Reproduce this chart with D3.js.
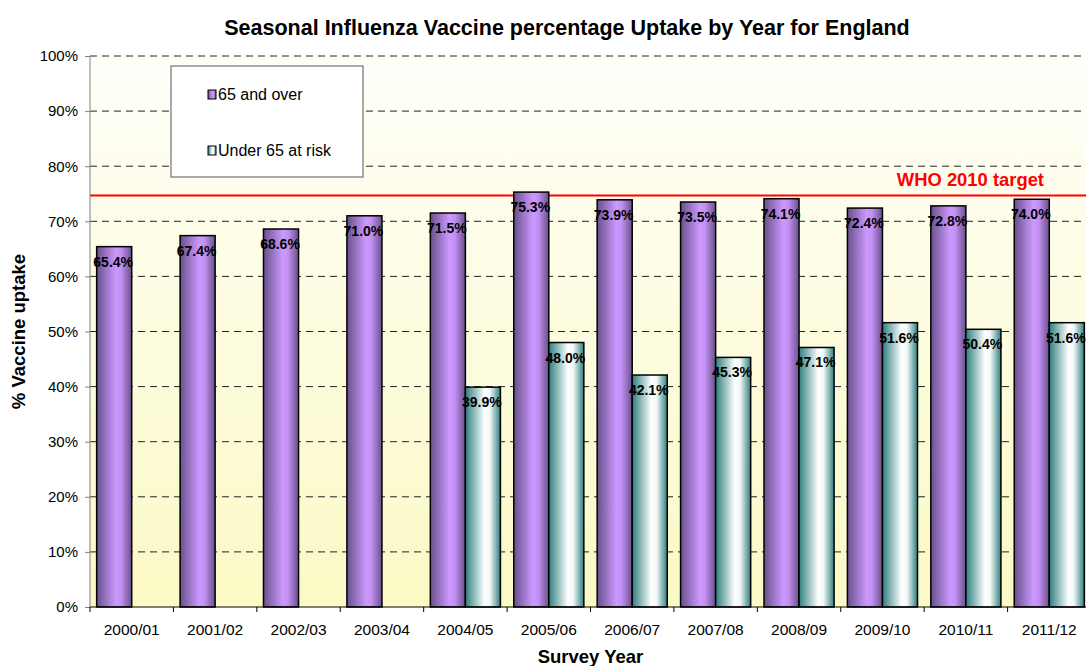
<!DOCTYPE html>
<html>
<head>
<meta charset="utf-8">
<script src="https://cdn.jsdelivr.net/npm/d3@7"></script>
<style>
  body { margin: 0; background: #fff; }
  svg { font-family: "Liberation Sans", Arial, sans-serif; display: block; }
</style>
</head>
<body>
<svg width="1086" height="666"></svg>
<script>
(function() {
	// chart data
	var years = ["2000/01","2001/02","2002/03","2003/04","2004/05","2005/06","2006/07","2007/08","2008/09","2009/10","2010/11","2011/12"];
	var over65 = [65.4, 67.4, 68.6, 71.0, 71.5, 75.3, 73.9, 73.5, 74.1, 72.4, 72.8, 74.0];
	var under65 = [null, null, null, null, 39.9, 48.0, 42.1, 45.3, 47.1, 51.6, 50.4, 51.6];
	var seriesNames = ["65 and over", "Under 65 at risk"];
	var yTicks = [0, 10, 20, 30, 40, 50, 60, 70, 80, 90, 100];
	var whoTarget = 74.7;

	var svg = d3.select("svg");
	var left = 90, right = 1091, top = 56, bottom = 607;
	var font = "'Liberation Sans', Arial, sans-serif";

	var x0 = d3.scaleBand().domain(years).range([left, right]);
	var x1 = d3.scaleBand().domain(seriesNames).range([0, x0.bandwidth()]).paddingInner(0).paddingOuter(0.19);
	var y = d3.scaleLinear().domain([0, 100]).range([bottom, top]);

	var defs = svg.append("defs");
	var bg = defs.append("linearGradient").attr("id","bg").attr("x1",0).attr("y1",0).attr("x2",0).attr("y2",1);
	bg.append("stop").attr("offset","0%").attr("stop-color","#fffffa");
	bg.append("stop").attr("offset","100%").attr("stop-color","#fbf9c4");

	var purple = defs.append("linearGradient").attr("id","purple").attr("x1",0).attr("y1",0).attr("x2",1).attr("y2",0);
	purple.append("stop").attr("offset","0%").attr("stop-color","#68508a");
	purple.append("stop").attr("offset","55%").attr("stop-color","#cc99ff");
	purple.append("stop").attr("offset","70%").attr("stop-color","#c290f2");
	purple.append("stop").attr("offset","100%").attr("stop-color","#68508a");

	var teal = defs.append("linearGradient").attr("id","teal").attr("x1",0).attr("y1",0).attr("x2",1).attr("y2",0);
	teal.append("stop").attr("offset","0%").attr("stop-color","#2e7f7f");
	teal.append("stop").attr("offset","55%").attr("stop-color","#ffffff");
	teal.append("stop").attr("offset","70%").attr("stop-color","#f2f7f7");
	teal.append("stop").attr("offset","100%").attr("stop-color","#2e7f7f");

	var fills = {"65 and over": "url(#purple)", "Under 65 at risk": "url(#teal)"};

	// plot area
	svg.append("rect").attr("x",left).attr("y",top).attr("width",right-left).attr("height",bottom-top).style("fill","url(#bg)");

	// gridlines
	svg.append("g").selectAll("line").data(yTicks.filter(function(d){ return d > 0; })).enter()
	  .append("line")
	  .attr("x1",left).attr("x2",right)
	  .attr("y1",function(d){ return y(d); }).attr("y2",function(d){ return y(d); })
	  .style("stroke","#222").style("stroke-width","1px").style("stroke-dasharray","7,5");

	// target line
	svg.append("line").attr("x1",left).attr("x2",right).attr("y1",y(whoTarget)).attr("y2",y(whoTarget))
	  .style("stroke","#ff0000").style("stroke-width","2px");
	svg.append("text").attr("x",1044).attr("y",y(whoTarget)-9).attr("text-anchor","end")
	  .style("font-size","18.4px").style("font-weight","bold").style("fill","#ff0000").text("WHO 2010 target");

	// bars
	var rows = years.map(function(yr, i) {
		return {year: yr, vals: [{name: seriesNames[0], v: over65[i]}, {name: seriesNames[1], v: under65[i]}].filter(function(d){ return d.v != null; })};
	});

	var groups = svg.append("g").selectAll("g").data(rows).enter()
	  .append("g").attr("transform",function(d){ return "translate(" + x0(d.year) + ",0)"; });

	groups.selectAll("rect").data(function(d){ return d.vals; }).enter()
	  .append("rect")
	  .attr("x",function(d){ return x1(d.name); })
	  .attr("y",function(d){ return y(d.v); })
	  .attr("width",x1.bandwidth())
	  .attr("height",function(d){ return y(0) - y(d.v); })
	  .style("fill",function(d){ return fills[d.name]; })
	  .style("stroke","#000").style("stroke-width","1.5px");

	groups.selectAll("text").data(function(d){ return d.vals; }).enter()
	  .append("text")
	  .attr("x",function(d){ return x1(d.name) + x1.bandwidth()/2 - 1; })
	  .attr("y",function(d){ return y(d.v) + 20; })
	  .attr("text-anchor","middle")
	  .style("font-size","14px").style("font-weight","bold")
	  .text(function(d){ return d.v.toFixed(1) + "%"; });

	// y axis
	var yAxis = d3.axisLeft(y).tickValues(yTicks).tickSize(5).tickFormat(function(d){ return d + "%"; });
	var ya = svg.append("g").attr("transform","translate(" + left + ",0)").call(yAxis);
	ya.select(".domain").attr("d","M0," + top + "V" + bottom).style("stroke","#808080");
	ya.selectAll(".tick line").style("stroke","#808080");
	ya.selectAll("text").style("font-size","15px").style("font-family",font).attr("x",-12).style("fill","#000");

	// x axis
	var xAxis = d3.axisBottom(x0).tickSize(0).tickPadding(17);
	var xa = svg.append("g").attr("transform","translate(0," + bottom + ")").call(xAxis);
	xa.select(".domain").attr("d","M" + left + ",0H" + right).style("stroke","#000");
	xa.selectAll("text").style("font-size","15.5px").style("font-family",font).style("fill","#000");
	xa.selectAll("line.sep").data(years).enter().append("line").attr("class","sep")
	  .attr("x1",function(d){ return x0(d); }).attr("x2",function(d){ return x0(d); })
	  .attr("y1",0).attr("y2",5).style("stroke","#000");

	// titles
	svg.append("text").attr("x",567).attr("y",35).attr("text-anchor","middle")
	  .style("font-size","21.5px").style("font-weight","bold").text("Seasonal Influenza Vaccine percentage Uptake by Year for England");
	svg.append("text").attr("x",(left+right)/2).attr("y",663).attr("text-anchor","middle")
	  .style("font-size","18.5px").style("font-weight","bold").text("Survey Year");
	svg.append("text").attr("transform","translate(25," + (top+bottom)/2 + ") rotate(-90)").attr("text-anchor","middle")
	  .style("font-size","18.5px").style("font-weight","bold").text("% Vaccine uptake");

	// legend
	var lg = svg.append("g").attr("transform","translate(171,66)");
	lg.append("rect").attr("width",192).attr("height",111).style("fill","#fff").style("stroke","#555").style("stroke-width","1px");
	var items = lg.selectAll("g").data(seriesNames).enter().append("g")
	  .attr("transform",function(d,i){ return "translate(37," + (24 + i*56) + ")"; });
	items.append("rect").attr("width",8).attr("height",9)
	  .style("fill",function(d){ return fills[d]; }).style("stroke","#000").style("stroke-width","1px");
	items.append("text").attr("x",10).attr("y",10).style("font-size","16px").text(function(d){ return d; });
})();
</script>
</body>
</html>
